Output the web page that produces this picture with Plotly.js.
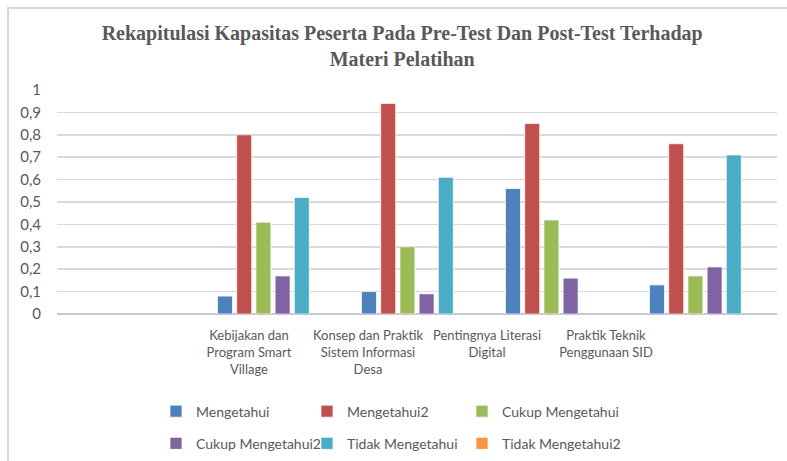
<!DOCTYPE html>
<html>
<head>
<meta charset="utf-8">
<script src="https://cdn.plot.ly/plotly-3.0.1.min.js"></script>
<style>html,body{margin:0;padding:0;background:#fff;}#chart{width:787px;height:461px;}</style>
</head>
<body>
<div id="chart"></div>
<script>
// ---- Data ----
const categories = [" ", "Kebijakan dan Program Smart Village", "Konsep dan Praktik Sistem Informasi Desa", "Pentingnya Literasi Digital", "Praktik Teknik Penggunaan SID"];
const tickLabels = ["Kebijakan dan<br>Program Smart<br>Village", "Konsep dan Praktik<br>Sistem Informasi<br>Desa", "Pentingnya Literasi<br>Digital", "Praktik Teknik<br>Penggunaan SID"];
const tickPositions = [1, 2, 3, 4];
const mengetahui        = [null, 0.08, 0.10, 0.56, 0.13];
const mengetahui2       = [null, 0.80, 0.94, 0.85, 0.76];
const cukupMengetahui   = [null, 0.41, 0.30, 0.42, 0.17];
const cukupMengetahui2  = [null, 0.17, 0.09, 0.16, 0.21];
const tidakMengetahui   = [null, 0.52, 0.61, null, 0.71];
const tidakMengetahui2  = [null, null, null, null, null];
const yTicks = [0, 0.1, 0.2, 0.3, 0.4, 0.5, 0.6, 0.7, 0.8, 0.9, 1];

const series = [
  {name: "Mengetahui", y: mengetahui, color: "#4F81BD", legend: "legend"},
  {name: "Mengetahui2", y: mengetahui2, color: "#C0504D", legend: "legend2"},
  {name: "Cukup Mengetahui", y: cukupMengetahui, color: "#9BBB59", legend: "legend3"},
  {name: "Cukup Mengetahui2", y: cukupMengetahui2, color: "#8064A2", legend: "legend"},
  {name: "Tidak Mengetahui", y: tidakMengetahui, color: "#4BACC6", legend: "legend2"},
  {name: "Tidak Mengetahui2", y: tidakMengetahui2, color: "#F79646", legend: "legend3"}
];

const traces = series.map(s => ({
  type: "bar",
  name: s.name,
  x: categories,
  y: s.y,
  legend: s.legend,
  legendgroup: s.name,
  marker: {color: s.color, line: {color: "rgba(255,255,255,0.7)", width: 1}},
  hoverinfo: "x+y+name"
}));

// carrier for the category label axis (no visible marks)
traces.push({
  type: "scatter", mode: "markers",
  x: tickPositions, y: tickPositions.map(() => null),
  xaxis: "x2", yaxis: "y",
  showlegend: false, hoverinfo: "skip",
  marker: {opacity: 0}
});

const gray = "#595959";
const legendFont = {family: "Lato, 'Open Sans', sans-serif", size: 14, color: gray};
const legendBase = {
  orientation: "v",
  y: -0.507, yanchor: "middle",
  font: legendFont,
  bgcolor: "rgba(0,0,0,0)",
  traceorder: "grouped",
  tracegroupgap: 11,
  itemclick: false
};

const layout = {
  width: 787, height: 461,
  margin: {l: 57, r: 10, t: 90, b: 147, pad: 0, autoexpand: false},
  paper_bgcolor: "#ffffff",
  plot_bgcolor: "#ffffff",
  separators: ",.",
  title: {
    text: "Rekapitulasi Kapasitas Peserta Pada Pre-Test Dan Post-Test Terhadap<br>Materi Pelatihan",
    font: {family: "'Liberation Serif', 'DejaVu Serif', serif", size: 20, color: gray, weight: "bold"},
    x: 0.511, xanchor: "center",
    y: 0.913, yanchor: "top", yref: "container"
  },
  barmode: "group",
  bargap: 0.2,
  bargroupgap: 0.22,
  xaxis: {
    type: "category",
    categoryorder: "array",
    categoryarray: categories,
    range: [-0.5, 4.5],
    showticklabels: false,
    ticks: "",
    showgrid: false,
    zeroline: false,
    showline: false,
    automargin: false
  },
  xaxis2: {
    type: "linear",
    overlaying: "x",
    anchor: "y",
    side: "bottom",
    range: [-0.613, 5.437],
    tickmode: "array",
    tickvals: tickPositions,
    ticktext: tickLabels,
    tickangle: 0,
    tickfont: {family: "Lato, 'Open Sans', sans-serif", size: 13, color: gray},
    ticks: "",
    ticklabelstandoff: 12,
    showgrid: false,
    zeroline: false,
    showline: false,
    automargin: false
  },
  yaxis: {
    range: [0, 1],
    tickmode: "array",
    tickvals: yTicks,
    tickformat: ".1~f",
    tickfont: {family: "Lato, 'Open Sans', sans-serif", size: 15, color: gray},
    showgrid: true,
    gridcolor: "#d9d9d9",
    gridwidth: 1.5,
    zeroline: true,
    zerolinecolor: "#c8c8c8",
    zerolinewidth: 1.5,
    showline: false,
    ticks: "",
    ticklabelstandoff: 15,
    automargin: false
  },
  legend:  Object.assign({}, legendBase, {x: 0.1375, xanchor: "left"}),
  legend2: Object.assign({}, legendBase, {x: 0.3472, xanchor: "left"}),
  legend3: Object.assign({}, legendBase, {x: 0.5625, xanchor: "left"}),
  shapes: [{
    type: "rect", xref: "paper", yref: "paper",
    x0: -0.068, x1: 1.1, y0: -0.8, y1: 1.366,
    line: {color: "#d9d9d9", width: 2},
    fillcolor: "rgba(0,0,0,0)",
    layer: "below"
  }],
  showlegend: true
};

Plotly.newPlot("chart", traces, layout, {displayModeBar: false, staticPlot: true});
</script>
</body>
</html>
